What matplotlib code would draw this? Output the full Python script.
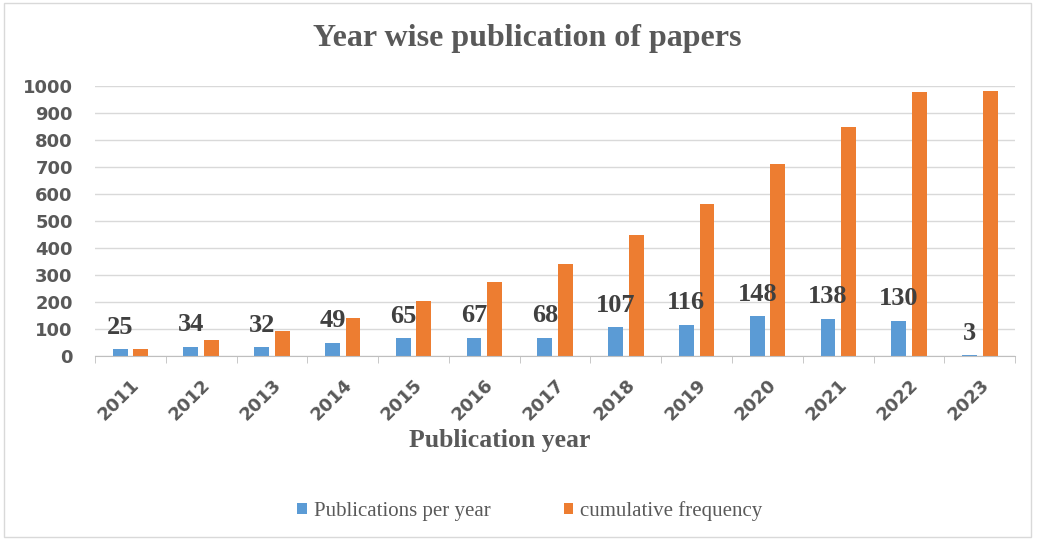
import matplotlib.pyplot as plt
import numpy as np
from matplotlib.patches import Rectangle

years = ['2011', '2012', '2013', '2014', '2015', '2016', '2017',
         '2018', '2019', '2020', '2021', '2022', '2023']
per_year = [25, 34, 32, 49, 65, 67, 68, 107, 116, 148, 138, 130, 3]
cumulative = [25, 59, 91, 140, 205, 272, 340, 447, 563, 711, 849, 979, 982]

blue = '#5b9bd5'
orange = '#ed7d31'
gray = '#595959'
serif = 'Liberation Serif'

fig = plt.figure(figsize=(10.37, 5.4), dpi=100)
ax = fig.add_axes([0.0916, 0.341, 0.8874, 0.500])

x = np.arange(len(years))
w = 0.21
ax.bar(x - 0.145, per_year, w, color=blue, label='Publications per year')
ax.bar(x + 0.145, cumulative, w, color=orange, label='cumulative frequency')

# data labels for the yearly counts
for xi, v in zip(x, per_year):
    ax.annotate(str(v), (xi - 0.145, v), xytext=(0, 11), textcoords='offset points',
                ha='center', va='baseline', fontsize=19, fontweight='bold',
                family=serif, color='#404040')

ax.set_xlim(-0.5, len(years) - 0.5)
ax.set_ylim(0, 1000)
ax.set_yticks(range(0, 1001, 100))
ax.grid(axis='y', color='#d9d9d9', linewidth=1)
ax.set_axisbelow(True)

for s in ['top', 'right', 'left']:
    ax.spines[s].set_visible(False)
ax.spines['bottom'].set_color('#bfbfbf')

ax.set_xticks(x)
ax.set_xticklabels(years, rotation=45, ha='right', rotation_mode='anchor',
                   fontsize=13, fontweight='bold', color=gray)
ax.tick_params(axis='x', length=0, pad=14)
ax.set_xticks(np.arange(-0.5, len(years), 1), minor=True)
ax.tick_params(axis='x', which='minor', length=5, color='#bfbfbf')
ax.tick_params(axis='y', length=0, labelsize=13, labelcolor=gray, pad=16)
for lab in ax.get_yticklabels():
    lab.set_fontweight('bold')

fig.text(500 / 1037, 1 - 447 / 540, 'Publication year', ha='center', va='baseline',
         fontsize=18.5, fontweight='bold', family=serif, color=gray)
fig.text(527 / 1037, 1 - 46 / 540, 'Year wise publication of papers', ha='center',
         va='baseline', fontsize=23, fontweight='bold', family=serif, color=gray)

ax.legend(loc='center', bbox_to_anchor=(530 / 1037, 1 - 511 / 540),
          bbox_transform=fig.transFigure, ncol=2, frameon=False,
          prop={'family': serif, 'size': 15}, labelcolor=gray,
          handlelength=0.45, handleheight=0.45, handletextpad=0.35, columnspacing=3.5)

fig.patches.append(Rectangle((0.004, 0.006), 0.99, 0.988, transform=fig.transFigure,
                             fill=False, edgecolor='#d9d9d9', linewidth=1))

fig.savefig('out.png', dpi=100)
